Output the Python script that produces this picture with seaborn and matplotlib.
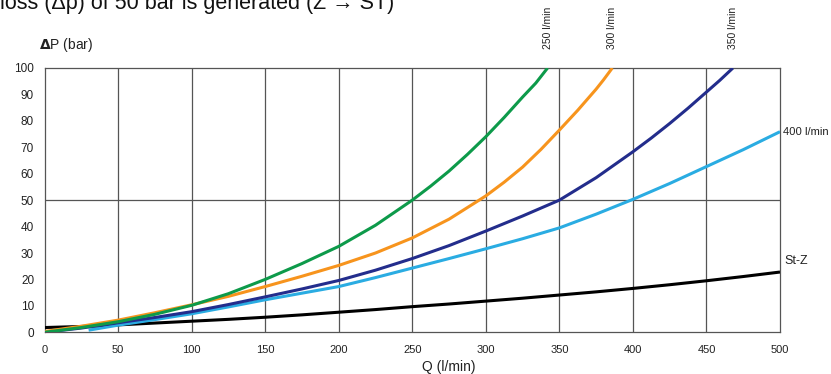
import matplotlib
matplotlib.use("Agg")
import matplotlib.pyplot as plt
import matplotlib.transforms as mtransforms
import pandas as pd
import seaborn as sns

# Pressure loss curves: Q (l/min) vs. delta P (bar)
q_250 = [0, 25, 50, 75, 100, 125, 150, 175, 200, 225, 250, 262.5, 275, 287.5, 300, 312.5, 325, 334, 342]
dp_250 = [0, 1.8, 4.0, 6.8, 10.2, 14.6, 20.0, 26.0, 32.5, 40.5, 50.0, 55.3, 61.0, 67.3, 74.0, 81.3, 89.0, 94.3, 100]

q_300 = [0, 25, 50, 75, 100, 125, 150, 175, 200, 225, 250, 275, 300, 312.5, 325, 337.5, 350, 362.5, 375, 380, 386]
dp_300 = [0.3, 2.3, 4.6, 7.4, 10.4, 13.6, 17.3, 21.2, 25.3, 30.0, 35.7, 42.8, 51.6, 56.8, 62.5, 69.2, 76.5, 84.0, 92.0, 95.5, 100]

q_350 = [0, 25, 50, 75, 100, 125, 150, 175, 200, 225, 250, 275, 300, 325, 350, 375, 400, 412.5, 425, 437.5, 450, 459, 468]
dp_350 = [0, 1.6, 3.6, 5.6, 7.8, 10.5, 13.4, 16.4, 19.6, 23.5, 27.9, 32.8, 38.3, 44.0, 50.0, 58.5, 68.3, 73.5, 79.0, 84.8, 90.9, 95.3, 100]

q_400 = [30, 50, 75, 100, 125, 150, 175, 200, 225, 250, 275, 300, 325, 350, 375, 400, 425, 450, 475, 500]
dp_400 = [0.8, 2.7, 4.8, 7.0, 9.6, 12.3, 14.8, 17.3, 20.7, 24.3, 27.9, 31.6, 35.4, 39.5, 44.7, 50.3, 56.3, 62.7, 69.1, 75.9]

q_stz = [0, 25, 50, 75, 100, 125, 150, 175, 200, 225, 250, 275, 300, 325, 350, 375, 400, 425, 450, 475, 500]
dp_stz = [1.8, 2.2, 2.8, 3.5, 4.2, 4.9, 5.7, 6.6, 7.6, 8.6, 9.7, 10.7, 11.8, 12.9, 14.1, 15.3, 16.6, 18.0, 19.5, 21.1, 22.8]

curve_names = ["St-Z", "400 l/min", "350 l/min", "300 l/min", "250 l/min"]
curve_data = [(q_stz, dp_stz), (q_400, dp_400), (q_350, dp_350), (q_300, dp_300), (q_250, dp_250)]
curve_colors = ["#000000", "#2aace2", "#232d8c", "#f7941d", "#0d9a4a"]

x_ticks = list(range(0, 501, 50))
y_ticks = list(range(0, 101, 10))

rows = []
for name, (qs, dps) in zip(curve_names, curve_data):
    for q, dp in zip(qs, dps):
        rows.append({"Q": q, "dP": dp, "curve": name})
df = pd.DataFrame(rows)

sns.set_theme(style="white")
plt.rcParams["font.family"] = ["Liberation Sans", "DejaVu Sans"]

fig = plt.figure(figsize=(8.31, 3.74), dpi=100)
ax = fig.add_axes([44.5 / 831, 1 - 332.3 / 374, (780 - 44.5) / 831, (332.3 - 68) / 374])

grid_col = "#555555"
for xv in x_ticks[1:-1]:
    ax.axvline(xv, color=grid_col, lw=0.9, zorder=1)
ax.axhline(50, color=grid_col, lw=0.9, zorder=1)

sns.lineplot(data=df, x="Q", y="dP", hue="curve", hue_order=curve_names,
             palette=dict(zip(curve_names, curve_colors)), linewidth=2.2,
             estimator=None, sort=False, legend=False, ax=ax, zorder=3)
for ln in ax.get_lines():
    ln.set_solid_joinstyle("round")
    ln.set_solid_capstyle("butt")

ax.set_xlim(0, 500)
ax.set_ylim(0, 100)
ax.set_xticks(x_ticks)
ax.set_yticks(y_ticks)
ax.set_xlabel("")
ax.set_ylabel("")
for s in ax.spines.values():
    s.set_color(grid_col)
    s.set_linewidth(0.9)
ax.tick_params(axis="both", direction="out", length=4.5, width=0.9, color=grid_col,
               labelcolor="#222222")
ax.tick_params(axis="x", pad=5, labelsize=8)
ax.tick_params(axis="y", pad=3, labelsize=8.5)

# Curve labels
trans = mtransforms.blended_transform_factory(ax.transData, ax.transAxes)
for name, (qs, dps) in zip(curve_names, curve_data):
    if dps[-1] >= 100:
        ax.text(qs[-1], 1.072, name, transform=trans, rotation=90, ha="center",
                va="bottom", fontsize=7.5, color="#222222", clip_on=False)

ax.annotate("400 l/min", xy=(q_400[-1], dp_400[-1]), xytext=(2.5, 0),
            textcoords="offset points", ha="left", va="center", fontsize=8.1,
            color="#222222", annotation_clip=False)
ax.annotate("St-Z", xy=(q_stz[-1], dp_stz[-1]), xytext=(3, 8),
            textcoords="offset points", ha="left", va="center", fontsize=9,
            color="#222222", annotation_clip=False)

fig.text(39 / 831, 1 - 45 / 374, "$\\mathbf{\\Delta}$P (bar)", ha="left", va="center",
         fontsize=10, color="#222222")
fig.text(449 / 831, 1 - 367 / 374, "Q (l/min)", ha="center", va="center",
         fontsize=10, color="#222222")
fig.text(0.0, 1 - 8.5 / 374, "loss (\u0394p) of 50 bar is generated (Z \u2192 ST)",
         ha="left", va="baseline", fontsize=15.5, color="#111111")

fig.savefig("out.png", dpi=100)
